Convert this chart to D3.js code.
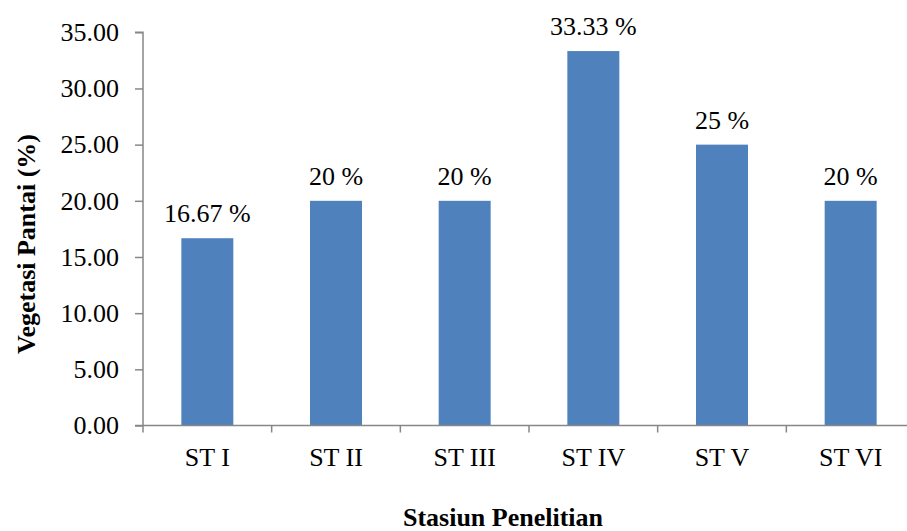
<!DOCTYPE html>
<html>
<head>
<meta charset="utf-8">
<script src="https://cdn.jsdelivr.net/npm/d3@7"></script>
<style>
  html, body { margin: 0; padding: 0; background: #fff; }
  svg { display: block; }
  svg text { font-family: "Liberation Serif", "Times New Roman", serif; }
</style>
</head>
<body>
<svg id="chart" width="907" height="531"></svg>
<script>
// Shoreline vegetation share per research station
const stations = ["ST I", "ST II", "ST III", "ST IV", "ST V", "ST VI"];
const vegetation = [16.67, 20, 20, 33.33, 25, 20];
const valueLabels = ["16.67 %", "20 %", "20 %", "33.33 %", "25 %", "20 %"];
const yTicks = [0, 5, 10, 15, 20, 25, 30, 35];

const svg = d3.select("#chart");
const plotLeft = 143, plotRight = 915, plotTop = 32.3, plotBottom = 425.5;
const axisColor = "#878787";
const barColor = "#4F81BD";
const serif = "Liberation Serif, Times New Roman, serif";

const x = d3.scaleBand().domain(stations).range([plotLeft, plotRight]).padding(0);
const y = d3.scaleLinear().domain([0, 35]).range([plotBottom, plotTop]);
const barW = x.bandwidth() * 0.404;

// bars
svg.append("g").selectAll("rect")
  .data(stations)
  .join("rect")
  .attr("x", (d) => x(d) + (x.bandwidth() - barW) / 2)
  .attr("y", (d, i) => y(vegetation[i]))
  .attr("width", barW)
  .attr("height", (d, i) => y(0) - y(vegetation[i]))
  .attr("fill", barColor);

// value labels above bars
svg.append("g").selectAll("text")
  .data(stations)
  .join("text")
  .attr("x", (d) => x(d) + x.bandwidth() / 2)
  .attr("y", (d, i) => y(vegetation[i]) - 16)
  .attr("text-anchor", "middle")
  .attr("font-family", serif)
  .attr("font-size", 26)
  .attr("fill", "#000")
  .text((d, i) => valueLabels[i]);

// y axis
const yAxis = svg.append("g")
  .attr("transform", `translate(${plotLeft},0)`)
  .call(d3.axisLeft(y).tickValues(yTicks).tickFormat(d3.format(".2f")).tickSize(8).tickPadding(16))
  .attr("font-family", serif);
yAxis.select(".domain").attr("stroke", axisColor).attr("stroke-width", 1.5)
  .attr("d", `M-8,${plotTop}H0V${plotBottom}`);
yAxis.selectAll(".tick line").attr("stroke", axisColor).attr("stroke-width", 1.5);
yAxis.selectAll(".tick text").attr("font-size", 26).attr("fill", "#000")
  .attr("font-family", serif);

// x axis with ticks on category boundaries
const xAxis = svg.append("g").attr("transform", `translate(0,${plotBottom})`);
xAxis.append("line")
  .attr("x1", plotLeft - 8).attr("x2", plotRight)
  .attr("y1", 0).attr("y2", 0)
  .attr("stroke", axisColor).attr("stroke-width", 1.5);
const boundaries = stations.map((d) => x(d)).concat([x(stations[stations.length - 1]) + x.bandwidth()]);
xAxis.selectAll("line.tk")
  .data(boundaries)
  .join("line")
  .attr("class", "tk")
  .attr("x1", (d) => d).attr("x2", (d) => d)
  .attr("y1", 0).attr("y2", 7)
  .attr("stroke", axisColor).attr("stroke-width", 1.5);
xAxis.selectAll("text")
  .data(stations)
  .join("text")
  .attr("x", (d) => x(d) + x.bandwidth() / 2)
  .attr("y", 40.5)
  .attr("text-anchor", "middle")
  .attr("font-family", serif)
  .attr("font-size", 26)
  .attr("fill", "#000")
  .text((d) => d);

// axis titles
svg.append("text")
  .attr("x", 503).attr("y", 526)
  .attr("text-anchor", "middle")
  .attr("font-family", serif)
  .attr("font-size", 26)
  .attr("font-weight", "bold")
  .text("Stasiun Penelitian");

svg.append("text")
  .attr("transform", "translate(35,244) rotate(-90)")
  .attr("text-anchor", "middle")
  .attr("font-family", serif)
  .attr("font-size", 26)
  .attr("font-weight", "bold")
  .text("Vegetasi Pantai (%)");
</script>
</body>
</html>
